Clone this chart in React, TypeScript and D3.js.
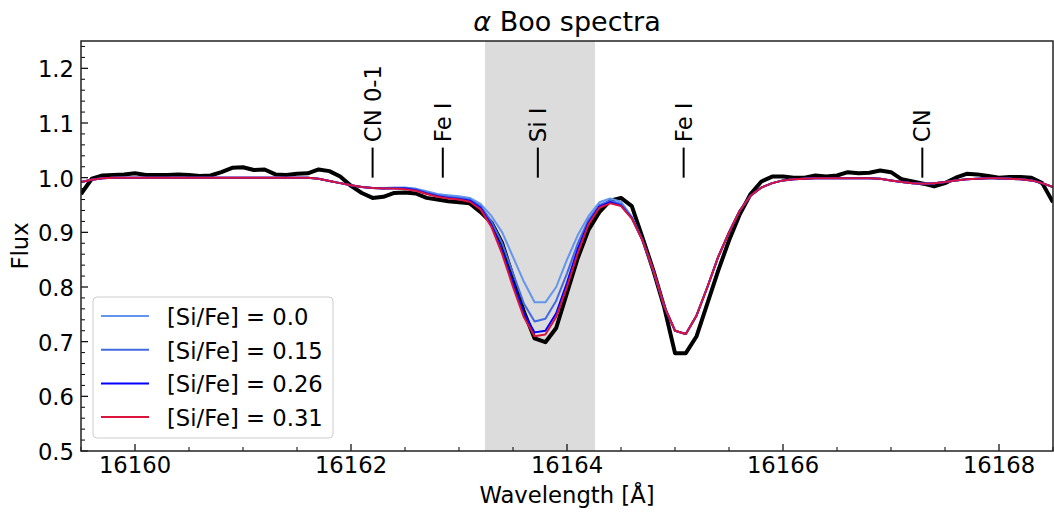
import React from "react";
import * as d3 from "d3";

const wavelength = [
  16159.5, 16159.6, 16159.7, 16159.8, 16159.9, 16160.0, 16160.1, 16160.2, 16160.3, 16160.4,
  16160.5, 16160.6, 16160.7, 16160.8, 16160.9, 16161.0, 16161.1, 16161.2, 16161.3, 16161.4,
  16161.5, 16161.6, 16161.7, 16161.8, 16161.9, 16162.0, 16162.1, 16162.2, 16162.3, 16162.4,
  16162.5, 16162.6, 16162.7, 16162.8, 16162.9, 16163.0, 16163.1, 16163.2, 16163.3, 16163.4,
  16163.5, 16163.6, 16163.7, 16163.8, 16163.9, 16164.0, 16164.1, 16164.2, 16164.3, 16164.4,
  16164.5, 16164.6, 16164.7, 16164.8, 16164.9, 16165.0, 16165.1, 16165.2, 16165.3, 16165.4,
  16165.5, 16165.6, 16165.7, 16165.8, 16165.9, 16166.0, 16166.1, 16166.2, 16166.3, 16166.4,
  16166.5, 16166.6, 16166.7, 16166.8, 16166.9, 16167.0, 16167.1, 16167.2, 16167.3, 16167.4,
  16167.5, 16167.6, 16167.7, 16167.8, 16167.9, 16168.0, 16168.1, 16168.2, 16168.3, 16168.4,
  16168.5,
];

const observedFlux = [
  0.970, 0.998, 1.004, 1.005, 1.006, 1.008, 1.005, 1.005, 1.005, 1.006,
  1.005, 1.003, 1.004, 1.010, 1.018, 1.019, 1.014, 1.015, 1.006, 1.005,
  1.007, 1.008, 1.015, 1.012, 1.002, 0.985, 0.972, 0.963, 0.965, 0.972,
  0.973, 0.971, 0.963, 0.960, 0.957, 0.955, 0.953, 0.937, 0.918, 0.880,
  0.818, 0.755, 0.706, 0.699, 0.725, 0.789, 0.853, 0.905, 0.937, 0.958,
  0.963, 0.948, 0.890, 0.830, 0.763, 0.679, 0.679, 0.710, 0.770, 0.830,
  0.885, 0.933, 0.970, 0.993, 1.002, 1.002, 1.000, 1.000, 1.004, 1.002,
  1.004, 1.010, 1.008, 1.009, 1.013, 1.010, 0.997, 0.993, 0.989, 0.984,
  0.990, 1.000, 1.007, 1.006, 1.003, 1.000, 1.001, 1.001, 1.000, 0.990,
  0.955,
];

const modelSiFe000 = [
  0.992, 0.996, 0.999, 1.000, 1.000, 1.000, 1.000, 1.000, 1.000, 1.000,
  1.000, 1.000, 1.000, 1.000, 1.000, 1.000, 1.000, 1.000, 1.000, 1.000,
  1.000, 1.000, 0.998, 0.994, 0.990, 0.986, 0.983, 0.981, 0.981, 0.982,
  0.982, 0.980, 0.975, 0.970, 0.968, 0.966, 0.963, 0.952, 0.930, 0.900,
  0.855, 0.810, 0.772, 0.772, 0.800, 0.850, 0.895, 0.930, 0.955, 0.962,
  0.956, 0.929, 0.885, 0.830, 0.765, 0.720, 0.714, 0.748, 0.800, 0.855,
  0.900, 0.940, 0.967, 0.982, 0.990, 0.995, 0.997, 0.998, 0.999, 0.999,
  0.999, 0.999, 0.999, 0.999, 0.998, 0.995, 0.992, 0.990, 0.989, 0.990,
  0.992, 0.995, 0.997, 0.998, 0.999, 0.999, 0.998, 0.997, 0.995, 0.990,
  0.983,
];

const modelSiFe015 = [
  0.992, 0.996, 0.999, 1.000, 1.000, 1.000, 1.000, 1.000, 1.000, 1.000,
  1.000, 1.000, 1.000, 1.000, 1.000, 1.000, 1.000, 1.000, 1.000, 1.000,
  1.000, 1.000, 0.998, 0.994, 0.990, 0.986, 0.983, 0.981, 0.980, 0.981,
  0.981, 0.979, 0.973, 0.968, 0.965, 0.963, 0.960, 0.948, 0.920, 0.880,
  0.825, 0.770, 0.737, 0.742, 0.775, 0.825, 0.880, 0.923, 0.950, 0.958,
  0.952, 0.927, 0.885, 0.830, 0.765, 0.720, 0.714, 0.748, 0.800, 0.855,
  0.900, 0.940, 0.967, 0.982, 0.990, 0.995, 0.997, 0.998, 0.999, 0.999,
  0.999, 0.999, 0.999, 0.999, 0.998, 0.995, 0.992, 0.990, 0.989, 0.990,
  0.992, 0.995, 0.997, 0.998, 0.999, 0.999, 0.998, 0.997, 0.995, 0.990,
  0.983,
];

const modelSiFe026 = [
  0.992, 0.996, 0.999, 1.000, 1.000, 1.000, 1.000, 1.000, 1.000, 1.000,
  1.000, 1.000, 1.000, 1.000, 1.000, 1.000, 1.000, 1.000, 1.000, 1.000,
  1.000, 1.000, 0.998, 0.994, 0.990, 0.986, 0.983, 0.981, 0.980, 0.980,
  0.980, 0.977, 0.971, 0.966, 0.963, 0.961, 0.958, 0.945, 0.913, 0.865,
  0.808, 0.752, 0.717, 0.720, 0.752, 0.808, 0.870, 0.918, 0.947, 0.955,
  0.949, 0.926, 0.885, 0.830, 0.765, 0.720, 0.714, 0.748, 0.800, 0.855,
  0.900, 0.940, 0.967, 0.982, 0.990, 0.995, 0.997, 0.998, 0.999, 0.999,
  0.999, 0.999, 0.999, 0.999, 0.998, 0.995, 0.992, 0.990, 0.989, 0.990,
  0.992, 0.995, 0.997, 0.998, 0.999, 0.999, 0.998, 0.997, 0.995, 0.990,
  0.983,
];

const modelSiFe031 = [
  0.992, 0.996, 0.999, 1.000, 1.000, 1.000, 1.000, 1.000, 1.000, 1.000,
  1.000, 1.000, 1.000, 1.000, 1.000, 1.000, 1.000, 1.000, 1.000, 1.000,
  1.000, 1.000, 0.998, 0.994, 0.990, 0.986, 0.983, 0.981, 0.980, 0.980,
  0.979, 0.976, 0.970, 0.965, 0.962, 0.960, 0.956, 0.942, 0.910, 0.860,
  0.800, 0.745, 0.710, 0.713, 0.745, 0.800, 0.862, 0.915, 0.945, 0.953,
  0.948, 0.925, 0.885, 0.830, 0.765, 0.720, 0.714, 0.748, 0.800, 0.855,
  0.900, 0.940, 0.967, 0.982, 0.990, 0.995, 0.997, 0.998, 0.999, 0.999,
  0.999, 0.999, 0.999, 0.999, 0.998, 0.995, 0.992, 0.990, 0.989, 0.990,
  0.992, 0.995, 0.997, 0.998, 0.999, 0.999, 0.998, 0.997, 0.995, 0.990,
  0.983,
];

const seriesLabels = ["[Si/Fe] = 0.0", "[Si/Fe] = 0.15", "[Si/Fe] = 0.26", "[Si/Fe] = 0.31"];
const seriesColors = ["#6495ED", "#4169E1", "#0000FF", "#DC143C"];
const seriesData = [modelSiFe000, modelSiFe015, modelSiFe026, modelSiFe031];

const lineIds = ["CN 0-1", "Fe I", "Si I", "Fe I", "CN"];
const lineWavelengths = [16162.2, 16162.85, 16163.73, 16165.08, 16167.29];

const shadeRange = [16163.24, 16164.26];

const xTicks = [16160, 16162, 16164, 16166, 16168];
const yTicks = [0.5, 0.6, 0.7, 0.8, 0.9, 1.0, 1.1, 1.2];

const W = 1054;
const H = 512;
const L = 81;
const R = 1053;
const T = 41;
const B = 451;
const FONT = "'DejaVu Sans', sans-serif";
const FS = 22.7;

export default function App() {
  const x = d3.scaleLinear().domain([16159.5, 16168.5]).range([L, R]);
  const y = d3.scaleLinear().domain([0.5, 1.25]).range([B, T]);

  const line = d3
    .line<number>()
    .x((_, i) => x(wavelength[i]))
    .y((d) => y(d));

  const xMinor = d3.range(16159.5, 16168.51, 0.5).filter((v) => Math.abs(v - Math.round(v / 2) * 2) > 1e-6);
  const yMinor = d3.range(0.5, 1.2501, 0.02).filter((v) => Math.abs(v * 10 - Math.round(v * 10)) > 1e-6);

  return (
    <svg
      width={W}
      height={H}
      style={{ position: "absolute", left: 0, top: 0, background: "#fff" }}
      fontFamily={FONT}
    >
      <defs>
        <clipPath id="plotclip">
          <rect x={L} y={T} width={R - L} height={B - T} />
        </clipPath>
      </defs>
      <rect x={0} y={0} width={W} height={H} fill="#fff" />
      <rect
        x={x(shadeRange[0])}
        y={T}
        width={x(shadeRange[1]) - x(shadeRange[0])}
        height={B - T}
        fill="#dcdcdc"
      />
      <g clipPath="url(#plotclip)">
        <path d={line(observedFlux) || ""} fill="none" stroke="#000" strokeWidth={4} strokeLinejoin="round" />
        {seriesData.map((s, k) => (
          <path key={k} d={line(s) || ""} fill="none" stroke={seriesColors[k]} strokeWidth={2} strokeLinejoin="round" />
        ))}
      </g>
      {lineWavelengths.map((w, i) => (
        <g key={i}>
          <line x1={x(w)} x2={x(w)} y1={y(1.0)} y2={y(1.055)} stroke="#000" strokeWidth={2} />
          <text
            transform={`translate(${x(w)},${y(1.065)}) rotate(-90)`}
            fontSize={FS}
            dominantBaseline="central"
            textAnchor="start"
          >
            {lineIds[i]}
          </text>
        </g>
      ))}
      {xTicks.map((t) => (
        <g key={t}>
          <line x1={x(t)} x2={x(t)} y1={B} y2={B - 7} stroke="#000" strokeWidth={1.2} />
          <text x={x(t)} y={473} textAnchor="middle" fontSize={FS}>
            {t}
          </text>
        </g>
      ))}
      {xMinor.map((t) => (
        <line key={t} x1={x(t)} x2={x(t)} y1={B} y2={B - 4} stroke="#000" strokeWidth={1} />
      ))}
      {yTicks.map((t) => (
        <g key={t}>
          <line x1={L} x2={L + 7} y1={y(t)} y2={y(t)} stroke="#000" strokeWidth={1.2} />
          <text x={74} y={y(t) + 1} textAnchor="end" dominantBaseline="central" fontSize={FS}>
            {t.toFixed(1)}
          </text>
        </g>
      ))}
      {yMinor.map((t) => (
        <line key={t} x1={L} x2={L + 4} y1={y(t)} y2={y(t)} stroke="#000" strokeWidth={1} />
      ))}
      <rect x={L} y={T} width={R - L} height={B - T} fill="none" stroke="#222" strokeWidth={1.5} />
      <rect x={93} y={297} width={240} height={141} rx={4} fill="#fff" fillOpacity={0.8} stroke="#ccc" strokeWidth={1} />
      {seriesLabels.map((lab, i) => (
        <g key={lab}>
          <line x1={101} x2={149} y1={316 + i * 33.7} y2={316 + i * 33.7} stroke={seriesColors[i]} strokeWidth={2} />
          <text x={167} y={317 + i * 33.7} dominantBaseline="central" fontSize={FS}>
            {lab}
          </text>
        </g>
      ))}
      <text x={(L + R) / 2} y={31} textAnchor="middle" fontSize={27}>
        <tspan fontStyle="italic">α</tspan> Boo spectra
      </text>
      <text x={(L + R) / 2} y={503} textAnchor="middle" fontSize={FS}>
        Wavelength [Å]
      </text>
      <text transform={`translate(28,${(T + B) / 2}) rotate(-90)`} textAnchor="middle" fontSize={FS}>
        Flux
      </text>
    </svg>
  );
}
